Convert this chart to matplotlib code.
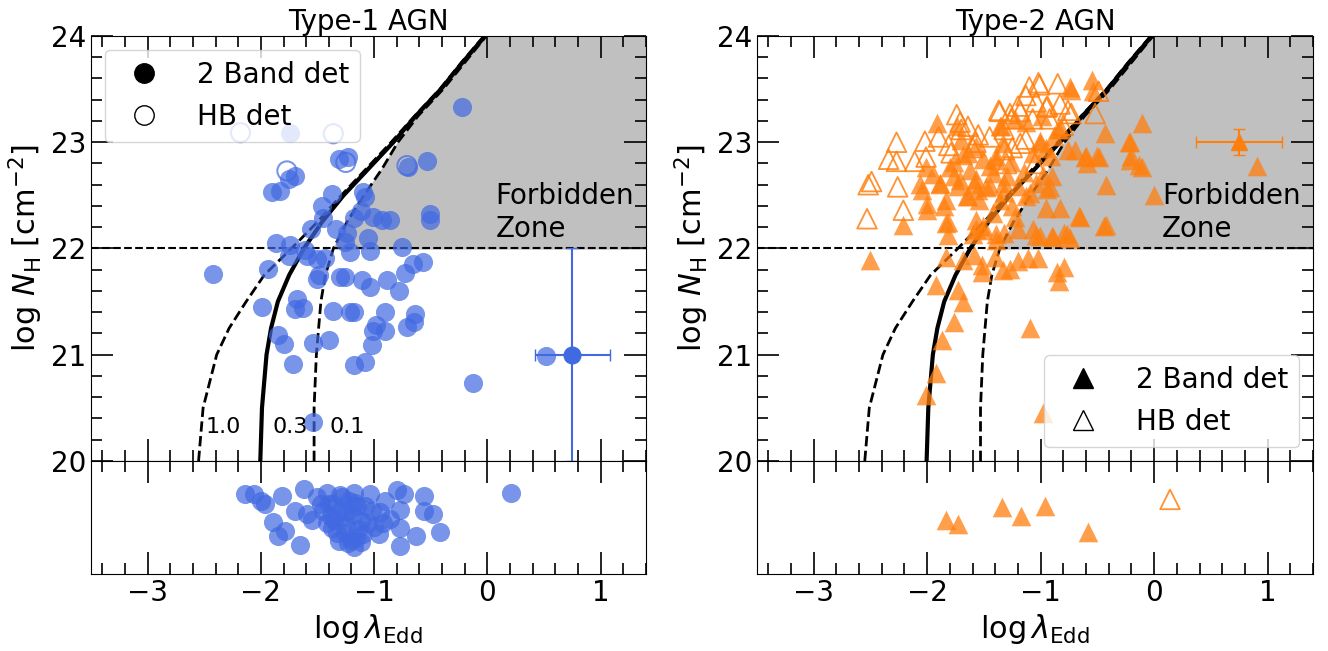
import numpy as np
import matplotlib
matplotlib.use("Agg")
import matplotlib.pyplot as plt
from matplotlib.lines import Line2D
from matplotlib.ticker import MultipleLocator

# effective Eddington limit curves (Fabian-style), x = log lambda_Edd at each log NH
nh_grid = [20.0, 20.5, 21.0, 21.25, 21.5, 21.75, 22.0, 22.25, 22.5, 22.75, 23.0, 23.25, 23.5, 23.75, 24.0]
edd_03 = [-2.005, -1.99, -1.95, -1.91, -1.85, -1.75, -1.62, -1.46, -1.27, -1.05, -0.83, -0.63, -0.41, -0.22, -0.02]
edd_10 = [-2.55, -2.51, -2.39, -2.28, -2.13, -1.97, -1.73, -1.50, -1.29, -1.07, -0.85, -0.64, -0.42, -0.23, -0.03]
edd_01 = [-1.53, -1.53, -1.51, -1.49, -1.47, -1.43, -1.36, -1.24, -1.09, -0.93, -0.79, -0.61, -0.39, -0.20, -0.01]
curve_labels = ["1.0", "0.3", "0.1"]
curve_label_x = [-2.33, -1.74, -1.24]

# Type-1: 2-band detections
t1_x = [-0.22, -1.74, -1.31, -1.23, -0.53, -0.70, -1.70, -1.75, -1.90, -1.83, -1.37, -1.10, -1.08,
        -1.46, -0.51, -0.51, -1.56, -1.45, -1.34, -1.18, -1.12, -1.01, -0.93, -0.86, -1.05, -1.24,
        -1.26, -1.87, -1.74, -1.61, -1.43, -1.21, -1.04, -0.75, -1.75, -1.59, -1.50, -2.42, -1.94,
        -0.73, -0.66, -0.57, -0.78, -1.50, -1.49, -1.30, -1.26, -1.11, -1.04, -0.89, -1.68, -1.63,
        -1.70, -1.99, -1.36, -1.21, -1.18, -0.90, -0.64, -0.65, -0.71, -0.98, -1.01, -0.90, -1.85,
        -1.80, -1.54, -1.40, -1.02, -1.72, -1.18, -1.08, -0.13, 0.52, -1.54]
t1_y = [23.33, 23.09, 22.84, 22.86, 22.82, 22.77, 22.68, 22.65, 22.53, 22.54, 22.51, 22.53, 22.48,
        22.40, 22.32, 22.27, 22.18, 22.29, 22.18, 22.29, 22.35, 22.30, 22.27, 22.27, 22.10, 22.15,
        22.06, 22.05, 22.03, 21.99, 21.91, 21.97, 21.98, 22.01, 21.93, 21.93, 21.90, 21.76, 21.81,
        21.77, 21.85, 21.87, 21.60, 21.71, 21.75, 21.73, 21.73, 21.70, 21.64, 21.70, 21.52, 21.44,
        21.43, 21.45, 21.41, 21.40, 21.40, 21.40, 21.38, 21.31, 21.26, 21.28, 21.22, 21.22, 21.19,
        21.10, 21.11, 21.14, 21.09, 20.91, 20.90, 20.93, 20.73, 20.99, 20.37]
# Type-1: hard-band only
t1_hb_x = [-2.18, -1.36, -1.77, -1.25, -0.71]
t1_hb_y = [23.09, 23.08, 22.73, 22.81, 22.78]
# Type-1: no NH constraint (lower strip, y is only a jitter)
t1_low_x = [-2.14, -2.06, -2.00, -1.96, -1.89, -1.85, -1.79, -1.81, -1.70, -1.65, -1.62, -1.59,
            -1.50, -1.42, -1.45, -1.37, -1.31, -1.24, -1.18, -1.17, -1.18, -1.12, -1.04, -1.02,
            -0.96, -0.86, -0.90, -0.80, -0.74, -0.77, -0.77, -0.77, -0.63, -0.56, -0.56, -0.48,
            -0.42, 0.21, -1.31, -1.25, -1.10, -1.20, -1.40, -1.28, -1.05, -0.95, -1.35, -1.15,
            -1.38, -1.33, -1.27, -1.22, -1.14, -1.08, -1.30, -1.23, -1.16, -1.42, -1.36, -1.12,
            -1.00, -1.26, -1.19, -1.47, -0.92, -1.55]
t1_low_y = [0.71, 0.71, 0.65, 0.62, 0.46, 0.34, 0.38, 0.69, 0.56, 0.26, 0.75, 0.53,
            0.68, 0.72, 0.56, 0.41, 0.29, 0.56, 0.72, 0.63, 0.24, 0.47, 0.71, 0.56,
            0.35, 0.49, 0.65, 0.74, 0.71, 0.57, 0.41, 0.25, 0.34, 0.69, 0.56, 0.53,
            0.37, 0.72, 0.55, 0.42, 0.35, 0.30, 0.62, 0.68, 0.45, 0.55, 0.48, 0.60,
            0.50, 0.36, 0.50, 0.65, 0.40, 0.60, 0.70, 0.27, 0.32, 0.45, 0.62, 0.28,
            0.42, 0.36, 0.52, 0.62, 0.45, 0.48]

# Type-2: 2-band detections
t2_x = [-0.55, -0.74, -0.54, -0.73, -1.91, -0.11, -1.74, -1.70, -1.57, -1.36, -1.33, -0.43, -0.21,
        -1.01, -0.85, -1.35, -1.23, -1.13, -0.99, -0.82, -1.01, -0.88, -2.01, -1.80, -1.62, -1.42,
        -1.39, -0.21, -0.11, -0.49, -0.61, -0.59, -0.70, -0.98, -1.64, -1.76, -1.51, -1.39, -1.26,
        -1.07, -0.91, -0.76, -0.50, -0.60, -0.22, -0.20, -0.13, -2.06, -2.05, -1.89, -1.76, -1.71,
        -1.59, -1.48, -1.30, -0.92, -1.09, -0.42, 0.00, -1.89, -1.73, -1.57, -1.45, -1.32, -1.20,
        -1.04, -0.90, 0.91, -2.00, -2.00, -1.83, -1.65, -1.54, -1.36, -1.42, -0.65, -0.83, -0.95,
        -1.23, -1.64, -1.32, -1.13, -0.94, -2.21, -1.82, -1.82, -1.57, -1.51, -1.39, -1.60, -0.42,
        -0.77, -0.89, -1.04, -0.74, -1.83, -1.57, -1.51, -1.07, -1.01, -0.90, -0.79, -0.66, -0.44,
        -1.32, -1.20, -1.39, -2.50, -1.83, -1.92, -1.73, -1.68, -1.76, -1.87, -1.92, -2.01, -1.52,
        -1.52, -1.68, -1.33, -1.59, -1.27, -1.11, -1.02, -0.86, -0.79, -0.84, -1.09, -0.98, -1.40,
        -1.20, -1.95, -1.68, -1.45, -1.15, -1.85, -1.55, -1.25, -0.95]
t2_y = [23.59, 23.52, 23.48, 23.49, 23.18, 23.18, 23.15, 23.02, 22.96, 23.15, 22.99, 23.09, 23.00,
        22.99, 23.12, 23.15, 23.22, 23.19, 23.25, 23.12, 23.01, 23.06, 22.77, 22.77, 22.74, 22.71,
        22.83, 22.83, 22.77, 22.86, 22.86, 22.80, 22.93, 22.69, 22.90, 22.81, 22.84, 22.87, 22.81,
        22.90, 22.87, 22.93, 22.87, 22.87, 23.00, 22.87, 22.79, 22.61, 22.55, 22.61, 22.68, 22.64,
        22.61, 22.58, 22.68, 22.58, 22.52, 22.60, 22.50, 22.62, 22.59, 22.65, 22.59, 22.62, 22.59,
        22.62, 22.68, 22.78, 22.42, 22.36, 22.46, 22.49, 22.46, 22.46, 22.33, 22.30, 22.38, 22.38,
        22.30, 22.49, 22.53, 22.49, 22.56, 22.22, 22.25, 22.13, 22.27, 22.17, 22.14, 22.14, 22.22,
        22.14, 22.11, 22.13, 22.10, 22.24, 22.18, 22.21, 22.18, 22.12, 22.12, 22.15, 22.31, 22.21,
        22.15, 22.18, 22.08, 21.89, 21.92, 21.66, 21.61, 21.50, 21.31, 21.14, 20.83, 20.62, 21.84,
        21.78, 21.89, 21.80, 21.94, 21.81, 21.91, 21.91, 21.78, 21.83, 21.69, 21.25, 20.45, 21.92,
        21.88, 22.70, 22.88, 22.78, 22.72, 22.40, 22.55, 22.40, 22.95]
# Type-2: hard-band only
t2_hb_x = [-1.02, -1.10, -0.85, -1.01, -0.49, -1.37, -1.20, -1.13, -0.94, -0.83, -0.76, -0.52,
           -0.95, -1.04, -0.73, -1.18, -1.27, -1.36, -1.74, -1.71, -1.64, -1.55, -2.27, -2.02,
           -1.90, -1.07, -0.92, -0.80, -1.18, -1.32, -1.26, -2.34, -2.27, -2.11, -2.01, -1.79,
           -1.30, -1.81, -1.57, -1.32, -1.13, -1.70, -2.52, -2.49, -2.26, -2.21, -2.53, -1.45,
           -1.60, -1.25, -1.05]
t2_hb_y = [23.56, 23.52, 23.55, 23.54, 23.48, 23.30, 23.34, 23.44, 23.34, 23.36, 23.30, 23.27,
           23.33, 23.38, 23.27, 23.29, 23.27, 23.29, 23.26, 23.19, 23.15, 23.07, 23.00, 23.01,
           23.05, 23.22, 23.22, 23.16, 22.99, 23.12, 23.22, 22.84, 22.82, 22.82, 22.86, 22.90,
           22.80, 22.97, 23.00, 22.93, 23.03, 23.12, 22.60, 22.63, 22.58, 22.36, 22.28, 23.05,
           22.95, 22.95, 22.80]
t2_low_x = [-1.83, -1.73, -1.34, -1.17, -0.96, -0.58]
t2_low_y = [0.48, 0.44, 0.59, 0.51, 0.60, 0.37]
t2_low_hb_x = [0.14]
t2_low_hb_y = [0.66]

# representative error bars
t1_err = dict(x=0.75, y=21.0, xerr=0.33, yerr=1.0)
t2_err = dict(x=0.75, y=23.0, xerr=0.38, yerr=0.12)

BLUE = "royalblue"
ORANGE = "tab:orange"
XLIM = (-3.5, 1.4)


def style_axes(ax_top, ax_bot):
    for ax in (ax_top, ax_bot):
        ax.set_xlim(*XLIM)
        ax.xaxis.set_major_locator(MultipleLocator(1))
        ax.xaxis.set_minor_locator(MultipleLocator(0.2))
        ax.tick_params(which="both", direction="in", top=True, right=True, labelsize=20, width=1.2)
        ax.tick_params(which="major", length=16)
        ax.tick_params(which="minor", length=8)
    ax_top.set_ylim(20, 24)
    ax_top.yaxis.set_major_locator(MultipleLocator(1))
    ax_top.yaxis.set_minor_locator(MultipleLocator(0.2))
    ax_top.tick_params(labelbottom=False)
    ax_top.set_ylabel(r"log $N_{\rm H}$ [cm$^{-2}$]", fontsize=22)
    ax_bot.set_ylim(0, 1)
    ax_bot.tick_params(axis="y", which="both", left=False, right=False, labelleft=False)
    ax_bot.set_xlabel(r"$\log\lambda_{\rm Edd}$", fontsize=22)


def draw_limits(ax, show_labels):
    nh = np.array(nh_grid)
    lo = np.array(edd_01)
    mask = nh >= 22
    ax.fill_betweenx(nh[mask], lo[mask], XLIM[1], color="silver", zorder=0)
    ax.axhline(22, color="k", ls="--", lw=1.5, zorder=1)
    ax.plot(edd_10, nh_grid, "k--", lw=2, zorder=1)
    ax.plot(edd_03, nh_grid, "k-", lw=3, zorder=1)
    ax.plot(edd_01, nh_grid, "k--", lw=2, zorder=1)
    ax.text(0.07, 22.34, "Forbidden\nZone", fontsize=20, va="center", ha="left")
    if show_labels:
        for lab, xl in zip(curve_labels, curve_label_x):
            ax.text(xl, 20.32, lab, fontsize=16, ha="center", va="center")


fig = plt.figure(figsize=(13.28, 6.51), dpi=100)
ax1 = fig.add_axes([0.0685, 0.2919, 0.4179, 0.6528])
ax1b = fig.add_axes([0.0685, 0.1183, 0.4179, 0.1736])
ax2 = fig.add_axes([0.5700, 0.2919, 0.4187, 0.6528])
ax2b = fig.add_axes([0.5700, 0.1183, 0.4187, 0.1736])

# Type-1
draw_limits(ax1, True)
ax1.scatter(t1_x, t1_y, s=190, color=BLUE, alpha=0.7, lw=0, zorder=2)
ax1.scatter(t1_hb_x, t1_hb_y, s=190, facecolors="none", edgecolors=BLUE, alpha=0.7, lw=1.5, zorder=2)
ax1.errorbar(t1_err["x"], t1_err["y"], xerr=t1_err["xerr"], yerr=t1_err["yerr"], fmt="o",
             color=BLUE, ms=12, capsize=4, elinewidth=1.5, zorder=3)
ax1b.scatter(t1_low_x, t1_low_y, s=190, color=BLUE, alpha=0.7, lw=0)
ax1.set_title("Type-1 AGN", fontsize=20, pad=4)
handles1 = [Line2D([], [], marker="o", ls="none", color="k", ms=14, label="2 Band det"),
            Line2D([], [], marker="o", ls="none", mfc="none", mec="k", ms=14, label="HB det")]
leg1 = ax1.legend(handles=handles1, loc="upper left", fontsize=20, handletextpad=0.9)
leg1.set_zorder(5)

# Type-2
draw_limits(ax2, False)
ax2.scatter(t2_hb_x, t2_hb_y, s=200, marker="^", facecolors="none", edgecolors=ORANGE,
            alpha=0.85, lw=1.3, zorder=2)
ax2.scatter(t2_x, t2_y, s=200, marker="^", color=ORANGE, alpha=0.75, lw=0, zorder=2)
ax2.errorbar(t2_err["x"], t2_err["y"], xerr=t2_err["xerr"], yerr=t2_err["yerr"], fmt="^",
             color=ORANGE, ms=12, capsize=4, elinewidth=1.5, zorder=3)
ax2b.scatter(t2_low_x, t2_low_y, s=200, marker="^", color=ORANGE, alpha=0.75, lw=0)
ax2b.scatter(t2_low_hb_x, t2_low_hb_y, s=200, marker="^", facecolors="none", edgecolors=ORANGE,
             alpha=0.85, lw=1.3)
ax2.set_title("Type-2 AGN", fontsize=20, pad=4)
handles2 = [Line2D([], [], marker="^", ls="none", color="k", ms=14, label="2 Band det"),
            Line2D([], [], marker="^", ls="none", mfc="none", mec="k", ms=14, label="HB det")]
leg2 = ax2.legend(handles=handles2, loc="lower right", fontsize=20, handletextpad=0.9)
leg2.set_zorder(5)

style_axes(ax1, ax1b)
style_axes(ax2, ax2b)

fig.savefig("out.png", dpi=100)
plt.close(fig)
